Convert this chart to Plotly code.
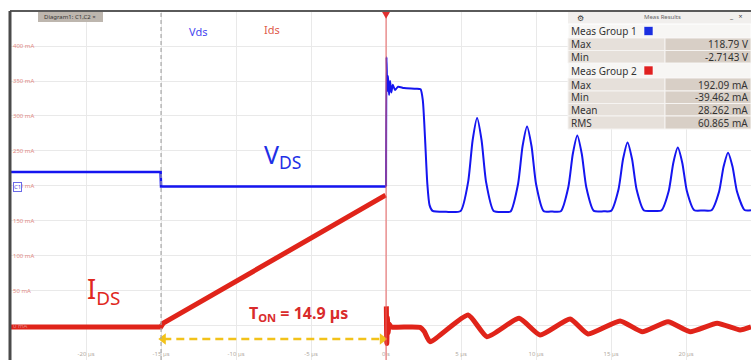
import plotly.graph_objects as go

# ---------------- data ----------------
# Ids (mA) before trigger
ids_t_a = [-25.07, -15.02, -14.85, -0.03]
ids_a = [-1.4, -1.4, 4.0, 187.0]
# Ids (mA) after trigger
ids_t_b = [0.02, 0.05, 0.09, 0.14, 0.2, 0.35, 1.5, 2.27, 2.55, 2.93, 5.47, 6.73, 8.87, 10.27,
           12.27, 13.47, 15.6, 17.07, 18.8, 20.27, 22.07, 23.6, 24.33]
ids_b = [28.0, -25.0, 12.0, -10.0, 3.0, -1.4, -1.4, -2.0, -8.0, -22.4, 15.7, -15.3, 11.0, -12.9,
         10.0, -11.4, 7.1, -8.1, 6.1, -8.1, 3.9, -5.7, -1.4]

# Vds (V) before trigger
vds_t_a = [-25.07, -15.03, -15.0, 0.0]
vds_a = [28.9, 28.9, 17.6, 17.6]
# Vds (V) after trigger
vds_t_b = [0.0, 0.03, 0.08, 0.13, 0.2, 0.27, 0.35, 0.45, 0.6, 0.8,
           1.2, 2.0, 2.3, 2.45, 2.6, 2.75, 2.9, 3.1, 4.0,
           4.97, 5.47, 5.77, 6.07, 6.37, 6.67, 7.17, 7.9,
           8.3, 8.8, 9.1, 9.4, 9.7, 10.0, 10.5, 11.1,
           11.65, 12.15, 12.45, 12.75, 13.05, 13.35, 13.85, 14.5,
           15.0, 15.5, 15.8, 16.1, 16.4, 16.7, 17.2, 17.8,
           18.35, 18.85, 19.15, 19.45, 19.75, 20.05, 20.55, 21.1,
           21.7, 22.2, 22.5, 22.8, 23.1, 23.4, 23.9, 24.33]
vds_b = [17.6, 118.8, 92.0, 104.0, 89.0, 100.0, 91.0, 97.0, 93.0, 95.5,
         94.5, 94.0, 93.5, 85.0, 55.0, 20.0, 3.0, -1.5, -2.2,
         -1.5, 21.0, 53.5, 71.0, 53.5, 21.0, -1.5, -2.3,
         -2.0, 19.5, 49.0, 64.5, 49.0, 19.5, -1.5, -2.0,
         -1.8, 17.0, 43.0, 57.5, 43.0, 17.0, -1.5, -1.8,
         -1.5, 15.5, 39.0, 52.0, 39.0, 15.5, -1.2, -1.5,
         -1.2, 14.3, 36.0, 48.0, 36.0, 14.3, -1.0, -1.2,
         -1.0, 13.4, 33.0, 44.0, 33.0, 13.4, -0.8, -1.0]

x_tick_vals = [-25, -20, -15, -10, -5, 0, 5, 10, 15, 20]
x_tick_text = ["-25 µs", "-20 µs", "-15 µs", "-10 µs", "-5 µs", "0 s", "5 µs", "10 µs", "15 µs", "20 µs"]
y_tick_vals = [0, 50, 100, 150, 200, 250, 300, 350, 400, 450]
y_tick_text = ["0 mA", "50 mA", "100 mA", "150 mA", "200 mA", "250 mA", "300 mA", "350 mA", "400 mA", "450 mA"]

ton_t = [-14.85, -0.25]
ton_y = [-18.6, -18.6]

meas_labels = ["Max", "Min", "Max", "Min", "Mean", "RMS"]
meas_values = ["118.79 V", "-2.7143 V", "192.09 mA", "-39.462 mA", "28.262 mA", "60.865 mA"]

# ---------------- figure ----------------
W, H = 751, 360
L, T = 10, 11


def PX(x):
    return (x - L) / (W - L)


def PY(y):
    return (H - y) / (H - T)


def note(x, y, text, size, color, xanchor="center", **kw):
    return dict(x=PX(x), y=PY(y), xref="paper", yref="paper", text=text, showarrow=False,
                xanchor=xanchor, yanchor="middle",
                font=dict(size=size, color=color, family="Noto Sans"), **kw)


fig = go.Figure()

fig.add_trace(go.Scatter(x=vds_t_a, y=vds_a, mode="lines", yaxis="y2",
                         line=dict(color="#1515f0", width=2.6), hoverinfo="skip"))
fig.add_trace(go.Scatter(x=vds_t_b, y=vds_b, mode="lines", yaxis="y2",
                         line=dict(color="#1515f0", width=2.0, shape="spline", smoothing=0.6),
                         hoverinfo="skip"))
fig.add_trace(go.Scatter(x=ids_t_a, y=ids_a, mode="lines",
                         line=dict(color="#e0241a", width=5), hoverinfo="skip"))
fig.add_trace(go.Scatter(x=ids_t_b, y=ids_b, mode="lines",
                         line=dict(color="#e0241a", width=5, shape="spline", smoothing=0.5),
                         hoverinfo="skip"))
# T_on arrow
fig.add_trace(go.Scatter(x=ton_t, y=ton_y, mode="lines",
                         line=dict(color="#f2c21a", width=2.5, dash="8px,5px"), hoverinfo="skip"))
fig.add_trace(go.Scatter(x=ton_t, y=ton_y, mode="markers",
                         marker=dict(symbol=["triangle-left", "triangle-right"], size=10,
                                     color="#f2c21a"), hoverinfo="skip"))

shapes = []
# cursor line and trigger line
shapes.append(dict(type="line", xref="x", yref="paper", x0=-15, x1=-15, y0=0, y1=1,
                   line=dict(color="#a8a8a8", width=1.2, dash="4px,3px")))
shapes.append(dict(type="line", xref="x", yref="paper", x0=0, x1=0, y0=0, y1=1,
                   line=dict(color="#e86060", width=1)))
shapes.append(dict(type="path", xref="x", yref="paper",
                   path="M -0.3,1 L 0.3,1 L 0,0.978 Z", fillcolor="#e03030",
                   line=dict(width=0)))
# borders
shapes.append(dict(type="line", xref="paper", yref="paper", x0=0, x1=1, y0=1, y1=1,
                   line=dict(color="#5a5a5a", width=2)))
shapes.append(dict(type="line", xref="paper", yref="paper", x0=0, x1=0, y0=0, y1=1,
                   line=dict(color="#4a4a4a", width=3)))
# diagram tab
shapes.append(dict(type="rect", xref="paper", yref="paper", x0=PX(38), x1=PX(103),
                   y0=PY(22), y1=PY(12), fillcolor="#bdb6ae", line=dict(width=0)))

annotations = []
annotations.append(note(70, 17, "Diagram1: C1,C2 ×", 6, "#333333"))

# measurement table
tx0, tx1, tmid = 568, 751, 665
shapes.append(dict(type="rect", xref="paper", yref="paper", x0=PX(tx0), x1=PX(tx1),
                   y0=PY(24), y1=PY(12), fillcolor="#f1efed", line=dict(width=0)))
annotations.append(note(580, 17.5, "⚙", 8, "#333333"))
annotations.append(note(662, 17.5, "Meas Results", 6, "#666666"))
annotations.append(note(736, 16.5, "_   ×", 7, "#444444"))

group_rows = [(24, 38, "Meas Group 1", "#1a2ee0"), (63, 78, "Meas Group 2", "#e02020")]
for (r0, r1, label, col) in group_rows:
    shapes.append(dict(type="rect", xref="paper", yref="paper", x0=PX(tx0), x1=PX(tx1),
                       y0=PY(r1), y1=PY(r0), fillcolor="#f7f6f4", line=dict(color="#ffffff", width=1)))
    annotations.append(note(569, (r0 + r1) / 2, label, 10, "#333333", xanchor="left"))
    shapes.append(dict(type="rect", xref="paper", yref="paper", x0=PX(644), x1=PX(653),
                       y0=PY((r0 + r1) / 2 + 4.5), y1=PY((r0 + r1) / 2 - 4.5), fillcolor=col,
                       line=dict(color="#ffffff", width=0.6)))

data_rows = [(38, 50.5), (50.5, 63), (78, 91), (91, 103.5), (103.5, 116), (116, 129)]
for (r0, r1), lab, val in zip(data_rows, meas_labels, meas_values):
    shapes.append(dict(type="rect", xref="paper", yref="paper", x0=PX(tx0), x1=PX(tmid),
                       y0=PY(r1), y1=PY(r0), fillcolor="#e6e0da", line=dict(color="#f6f4f2", width=1)))
    shapes.append(dict(type="rect", xref="paper", yref="paper", x0=PX(tmid), x1=PX(tx1),
                       y0=PY(r1), y1=PY(r0), fillcolor="#d8cfc6", line=dict(color="#f6f4f2", width=1)))
    annotations.append(note(569, (r0 + r1) / 2, lab, 10, "#333333", xanchor="left"))
    annotations.append(note(750, (r0 + r1) / 2, val, 10, "#333333", xanchor="right"))

# labels
annotations.append(note(198, 31, "Vds", 11, "#4646f0"))
annotations.append(note(272, 29, "Ids", 11, "#e05a4a"))
annotations.append(note(282, 156, "V<sub>DS</sub>", 25, "#1e30e6"))
annotations.append(note(103, 290, "I<sub>DS</sub>", 27, "#e0281e"))
annotations.append(note(298, 313, "<b>T<sub>ON</sub> = 14.9 µs</b>", 16, "#d92b2b"))
# channel marker
annotations.append(note(17, 187, "C1", 6, "#4a4ae0", bordercolor="#6a6ae8", borderwidth=1,
                        borderpad=0, bgcolor="#ffffff"))

fig.update_layout(
    width=W, height=H,
    margin=dict(l=L, r=0, t=T, b=0),
    paper_bgcolor="white", plot_bgcolor="white",
    showlegend=False,
    font=dict(family="Noto Sans"),
    xaxis=dict(range=[-25.07, 24.33], tickvals=x_tick_vals, ticktext=x_tick_text,
               ticklabelposition="inside", tickfont=dict(size=6, color="#b2aaa2"),
               showgrid=True, gridcolor="#e9e9e9", gridwidth=1, zeroline=False,
               showline=False, ticks=""),
    yaxis=dict(range=[-48.6, 450], tickvals=y_tick_vals, ticktext=y_tick_text,
               ticklabelposition="inside", tickfont=dict(size=6, color="#e28a84"),
               showgrid=True, gridcolor="#e9e9e9", gridwidth=1, zeroline=False,
               showline=False, ticks=""),
    yaxis2=dict(range=[-118.0, 154.7], overlaying="y", visible=False),
    shapes=shapes,
    annotations=annotations,
)

fig.write_html("out.html", config={"displayModeBar": False},
               post_script="document.body.style.margin='0';document.body.style.overflow='hidden';")
